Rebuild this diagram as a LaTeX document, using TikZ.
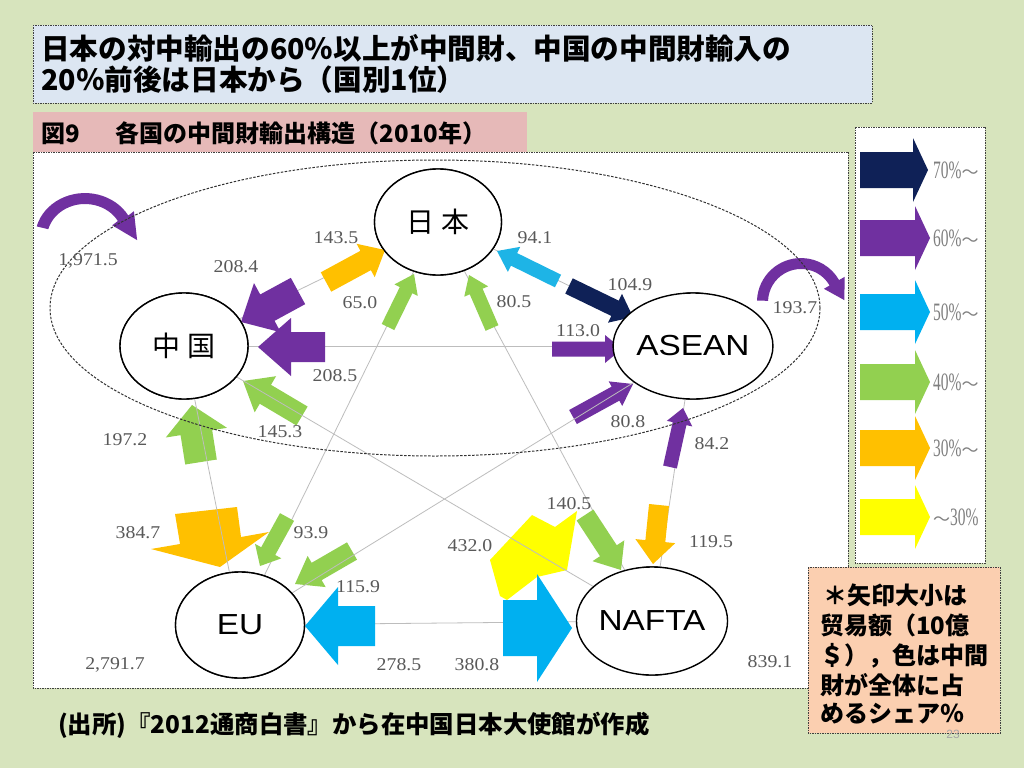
\documentclass[tikz,border=0pt]{standalone}
\usepackage{fontspec}
\setmainfont{Liberation Sans}
\newfontfamily\jp{Noto Sans CJK JP}
\newfontfamily\numf{Liberation Serif}[FakeStretch=1.1]
\newfontfamily\legf{Liberation Serif}[FakeStretch=0.62]
\newfontfamily\nodef{Liberation Sans}[FakeStretch=1.15]
\usetikzlibrary{shapes.geometric}
\definecolor{bg}{HTML}{D7E4BD}
\definecolor{titlebg}{HTML}{DCE6F2}
\definecolor{pinkbg}{HTML}{E6B9B8}
\definecolor{notebg}{HTML}{FBCFB0}
\definecolor{boxgray}{HTML}{404040}
\definecolor{linegray}{HTML}{BDBDBD}
\definecolor{numgray}{HTML}{595959}
\definecolor{leggray}{HTML}{7F7F7F}
\definecolor{cnavy}{HTML}{0F2157}
\definecolor{cpurple}{HTML}{7030A0}
\definecolor{ccyan}{HTML}{00B0F0}
\definecolor{clcyan}{HTML}{1EB4E6}
\definecolor{cgreen}{HTML}{92D050}
\definecolor{corange}{HTML}{FFC000}
\definecolor{cyellow}{HTML}{FFFF00}
% block arrow: color, x1, y1, x2, y2, body half, head half, head length
\newcommand{\barrow}[8]{%
  \pgfmathsetmacro\baang{atan2((#3)-(#5),(#4)-(#2))}%
  \pgfmathsetmacro\balen{veclen((#4)-(#2),(#5)-(#3))}%
  \fill[#1, shift={(#2,#3)}, rotate=\baang] (0,-#6) -- ({\balen-#8},-#6) -- ({\balen-#8},-#7) -- (\balen,0) -- ({\balen-#8},#7) -- ({\balen-#8},#6) -- (0,#6) -- cycle;%
}
\newcommand{\lwave}{{\jp\fontsize{17}{17}\selectfont ～}}
\tikzset{
  numlbl/.style={font={\numf\fontsize{18}{18}\selectfont}, text=numgray, inner sep=0pt},
  cnode/.style={ellipse, draw=black, line width=1.4pt, fill=white, inner sep=0pt},
  jpnode/.style={font={\jp\fontsize{28}{30}\selectfont}},
  ennode/.style={font={\nodef\fontsize{29}{30}\selectfont}},
  gline/.style={draw=linegray, line width=0.8pt},
  boxline/.style={draw=boxgray, dash pattern=on 1.5pt off 1pt, line width=0.9pt},
  legl/.style={font={\legf\fontsize{25}{25}\selectfont}, text=leggray, inner sep=0pt, anchor=west},
  ttl/.style={font={\jp\bfseries\fontsize{28.6}{30}\selectfont}, anchor=west, inner sep=0pt},
  notel/.style={font={\jp\bfseries\fontsize{24}{26}\selectfont}, anchor=west, inner sep=0pt},
}
\begin{document}
\begin{tikzpicture}[x=1pt,y=-1pt]
\fill[bg] (0,0) rectangle (1024,768);
\useasboundingbox (0,0) rectangle (1024,768);

% title box
\draw[boxline, fill=titlebg] (33,25) rectangle (872,103);
\node[ttl] (t1) at (41,48) {日本の対中輸出の60％以上が中間財、中国の中間財輸入の};
\node[ttl] (t2) at (41,80) {20％前後は日本から（国別1位）};

% main panel
\draw[boxline, fill=white] (33,152) rectangle (848,688);
\fill[pinkbg] (33,112) rectangle (527,152);
\node[ttl, font={\jp\bfseries\fontsize{24}{26}\selectfont}] (sub) at (41,133) {図9\hspace{1.5em}各国の中間財輸出構造（2010年）};

% legend
\draw[boxline, fill=white] (855,127) rectangle (985,563);
\barrow{cnavy}{860}{170}{928}{170}{18}{32}{15}
\barrow{cpurple}{860}{238}{930}{238}{18}{32}{15}
\barrow{ccyan}{860}{312}{930}{312}{18}{32}{15}
\barrow{cgreen}{860}{382}{930}{382}{18}{32}{15}
\barrow{corange}{860}{448}{930}{448}{18}{32}{15}
\barrow{cyellow}{860}{517}{930}{517}{18}{32}{15}
\node[legl] (lg1) at (933,170) {70\%\lwave};
\node[legl] (lg2) at (933,238) {60\%\lwave};
\node[legl] (lg3) at (933,312) {50\%\lwave};
\node[legl] (lg4) at (933,382) {40\%\lwave};
\node[legl] (lg5) at (933,448) {30\%\lwave};
\node[legl] (lg6) at (933,517) {\lwave 30\%};

% country nodes (placed first for connectors)
\node[cnode, minimum width=127pt, minimum height=106pt] (jp) at (438,222) {};
\node[cnode, minimum width=128pt, minimum height=106pt] (cn) at (184,346) {};
\node[cnode, minimum width=127pt, minimum height=106pt] (as) at (693,346) {};
\node[cnode, minimum width=129pt, minimum height=106pt] (eu) at (240,625) {};
\node[cnode, minimum width=130pt, minimum height=108pt] (na) at (652,621) {};

% connectors under the arrows
\draw[gline] (jp) -- (cn);
\draw[gline] (jp) -- (as);
\draw[gline] (cn) -- (as);
\draw[gline] (jp) -- (eu);
\draw[gline] (jp) -- (na);
\draw[gline] (as) -- (na);
\draw[gline] (eu) -- (na);

% self loops
\fill[cpurple] (36.7,226.4) arc[start angle=195, end angle=330, x radius=50, y radius=45]
  -- (133.9,211.2) -- (137.1,240.1) -- (112.2,225.3) -- (117.9,221)
  arc[start angle=330, end angle=195, x radius=38, y radius=34] -- cycle;
\fill[cpurple] (757.0,300.5) arc[start angle=182, end angle=330, x radius=44, y radius=44]
  -- (844.7,276.8) -- (844.3,300.1) -- (823.9,288.8) -- (829.6,285.5)
  arc[start angle=330, end angle=182, x radius=33, y radius=33] -- cycle;

% block arrows
\barrow{corange}{326}{282}{385}{250}{11}{19}{22}
\barrow{cpurple}{298}{291}{241}{322}{15}{28}{30}
\barrow{cpurple}{325}{347}{258}{347}{15}{29}{33}
\barrow{cpurple}{552}{349}{622}{349}{7.5}{14}{17}
\barrow{clcyan}{558}{281}{497}{251}{7}{14}{19}
\barrow{cnavy}{569}{286}{633}{317}{8.5}{16}{20}
\barrow{cgreen}{388}{327}{414}{274}{7}{13}{18}
\barrow{cgreen}{287}{517}{260}{566}{8}{15}{17}
\barrow{cgreen}{492}{328}{469}{275}{7}{13}{18}
\barrow{cgreen}{585}{515}{621}{570}{10}{19}{23}
\barrow{cgreen}{201}{462}{192}{405}{16}{31}{28}
\barrow{cgreen}{302}{416}{243}{381}{11}{21}{26}
\barrow{cpurple}{573}{417}{633}{384}{8}{14}{20}
\barrow{cgreen}{352}{551}{295}{584}{10}{18}{25}
\barrow{cpurple}{670}{467}{683}{408}{7}{13}{16}
\barrow{corange}{659}{505}{653}{564}{10}{20}{23}
\barrow{ccyan}{375}{626}{305}{626}{20}{39}{33}
\fill[corange] (175,514) -- (237,507) -- (241,537) -- (269,532) -- (220,567) -- (151,549) -- (180,544) -- cycle;
\fill[cyellow] (490,560) -- (532,515) -- (555,527) -- (577,511) -- (567,570) -- (537,577) -- (507,600) -- (500,596) -- cycle;
\barrow{ccyan}{503}{628}{572}{628}{28}{54}{35}

% connectors drawn over the arrows
\draw[gline] (cn) -- (eu);
\draw[gline] (cn) -- (na);
\draw[gline] (as) -- (eu);

% dashed grouping ellipse
\draw[draw=black!80, dash pattern=on 2.5pt off 1.5pt, line width=1pt] (435,308) ellipse [x radius=385, y radius=148];

% node texts
\node[cnode, minimum width=127pt, minimum height=106pt, jpnode] at (jp) {日\kern8pt本};
\node[cnode, minimum width=128pt, minimum height=106pt, jpnode] at (cn) {中\kern8pt国};
\node[cnode, minimum width=127pt, minimum height=106pt, ennode] at (as) {ASEAN};
\node[cnode, minimum width=129pt, minimum height=106pt, ennode] at (eu) {EU};
\node[cnode, minimum width=130pt, minimum height=108pt, ennode] at (na) {NAFTA};

% value labels
\node[numlbl] (v1) at (336,238) {143.5};
\node[numlbl] (v2) at (236,267) {208.4};
\node[numlbl] (v3) at (360,303) {65.0};
\node[numlbl] (v4) at (335,376) {208.5};
\node[numlbl] (v5) at (88,261) {1,971.5};
\node[numlbl] (v6) at (535,238) {94.1};
\node[numlbl] (v7) at (630,285) {104.9};
\node[numlbl] (v8) at (514,302) {80.5};
\node[numlbl] (v9) at (578,331) {113.0};
\node[numlbl] (v10) at (795,308) {193.7};
\node[numlbl] (v11) at (628,422) {80.8};
\node[numlbl] (v12) at (712,444) {84.2};
\node[numlbl] (v13) at (125,440) {197.2};
\node[numlbl] (v14) at (280,432) {145.3};
\node[numlbl] (v15) at (138,533) {384.7};
\node[numlbl] (v16) at (311,533) {93.9};
\node[numlbl] (v17) at (569,504) {140.5};
\node[numlbl] (v18) at (470,546) {432.0};
\node[numlbl] (v19) at (711,542) {119.5};
\node[numlbl] (v20) at (358,587) {115.9};
\node[numlbl] (v21) at (399,665) {278.5};
\node[numlbl] (v22) at (477,665) {380.8};
\node[numlbl] (v23) at (115,665) {2,791.7};
\node[numlbl] (v24) at (770,662) {839.1};

% note box
\draw[boxline, fill=notebg] (808,567) rectangle (1000,733);
\node[notel] (n1) at (823,595) {＊矢印大小は};
\node[notel] (n2) at (820,625) {贸易额（10億};
\node[notel] (n3) at (820,656) {＄），色は中間};
\node[notel] (n4) at (820,685) {財が全体に占};
\node[notel] (n5) at (820,714) {めるシェア％};
\node[text=black!35, font=\fontsize{12}{12}\selectfont, inner sep=0pt] (pg) at (953,734) {23};

% source
\node[ttl, font={\jp\bfseries\fontsize{24.4}{26}\selectfont}] (src) at (58,725) {(出所)『2012通商白書』から在中国日本大使館が作成};
\end{tikzpicture}
\end{document}
